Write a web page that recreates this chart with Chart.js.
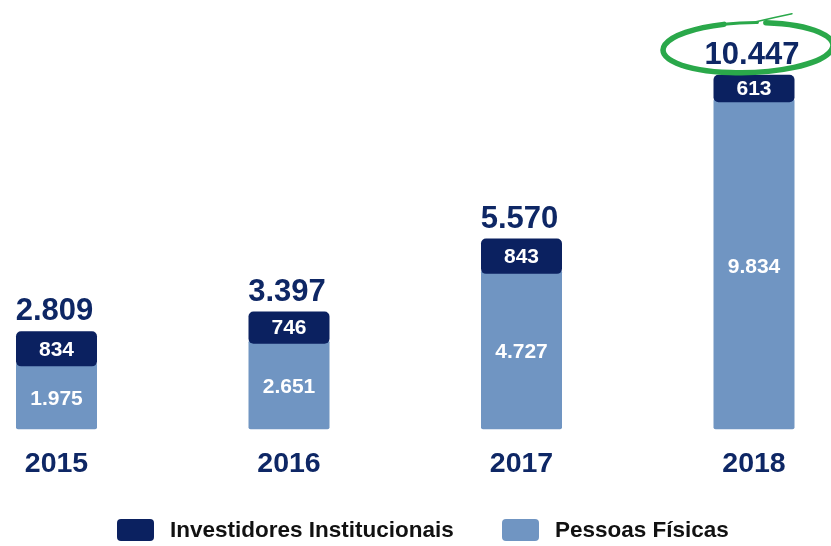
<!DOCTYPE html>
<html lang="pt-BR">
<head>
<meta charset="utf-8">
<script src="https://cdn.jsdelivr.net/npm/chart.js@4.4.1/dist/chart.umd.min.js"></script>
<style>
  html, body { margin: 0; padding: 0; background: #ffffff; }
  #wrap { position: relative; width: 831px; height: 546px; overflow: hidden; background: #ffffff; }
  #chart { position: absolute; left: 0; top: 0; }
  .leg { position: absolute; top: 519px; display: flex; align-items: center; height: 22px;
         font-family: "Liberation Sans", Arial, sans-serif; font-weight: bold; font-size: 22.5px; color: #111111; white-space: nowrap; }
  .leg .box { width: 37px; height: 22px; border-radius: 4px; margin-right: 16px; }
</style>
</head>
<body>
<div id="wrap">
  <canvas id="chart" width="831" height="546"></canvas>
  <div id="legend"></div>
</div>
<script>
// ---- data ----
const years = ['2015', '2016', '2017', '2018'];
const pessoasFisicas = [1975, 2651, 4727, 9834];
const investidoresInstitucionais = [834, 746, 843, 613];
const totais = [2809, 3397, 5570, 10447];
const seriesNames = ['Investidores Institucionais', 'Pessoas Físicas'];

// ---- styles ----
const DARK = '#0b2160';
const LIGHT = '#7095c2';
const NAVY_TEXT = '#0e2765';
const GREEN = '#2aa84a';
const FONT = '"Liberation Sans", Arial, sans-serif';
const INFLATE = 3.5;

const fmt = v => String(v).replace(/\B(?=(\d{3})+(?!\d))/g, '.');

// legend (HTML)
const legendEl = document.getElementById('legend');
[[seriesNames[0], DARK, 117], [seriesNames[1], LIGHT, 502]].forEach(([name, col, left]) => {
  const d = document.createElement('div');
  d.className = 'leg';
  d.style.left = left + 'px';
  const b = document.createElement('span');
  b.className = 'box';
  b.style.background = col;
  const t = document.createElement('span');
  t.textContent = name;
  d.appendChild(b); d.appendChild(t);
  legendEl.appendChild(d);
});

const labelPlugin = {
  id: 'valueLabels',
  afterDatasetsDraw(chart) {
    const ctx = chart.ctx;
    const darkMeta = chart.getDatasetMeta(0);
    const lightMeta = chart.getDatasetMeta(1);
    ctx.save();
    ctx.textAlign = 'center';
    ctx.textBaseline = 'middle';
    ctx.fillStyle = '#ffffff';
    ctx.font = 'bold 21px ' + FONT;
    lightMeta.data.forEach((el, i) => {
      const p = el.getProps(['x', 'y', 'base'], true);
      const top = p.y + INFLATE;
      ctx.fillText(fmt(pessoasFisicas[i]), p.x, (top + p.base) / 2 + 1);
    });
    darkMeta.data.forEach((el, i) => {
      const p = el.getProps(['x', 'y', 'base'], true);
      ctx.fillText(fmt(investidoresInstitucionais[i]), p.x, (p.y + p.base) / 2 + 1);
    });
    ctx.fillStyle = NAVY_TEXT;
    ctx.font = 'bold 31px ' + FONT;
    ctx.textBaseline = 'alphabetic';
    let last = null;
    darkMeta.data.forEach((el, i) => {
      const p = el.getProps(['x', 'y', 'base'], true);
      const by = p.y - INFLATE - 11;
      ctx.fillText(fmt(totais[i]), p.x - 2, by);
      last = { x: p.x, y: by };
    });
    // green highlight ellipse around the last total
    if (last) {
      const cx = last.x - 6, cy = last.y - 16;
      ctx.strokeStyle = GREEN;
      ctx.lineCap = 'round';
      ctx.lineWidth = 5.5;
      ctx.beginPath();
      ctx.ellipse(cx, cy, 85, 25, -0.03, -1.35, -1.35 + Math.PI * 2 - 0.5);
      ctx.stroke();
      ctx.lineWidth = 3;
      ctx.beginPath();
      ctx.ellipse(cx, cy, 85, 25, -0.03, -1.35 - 0.5, -1.35 - 0.1);
      ctx.stroke();
      ctx.lineWidth = 1.5;
      ctx.beginPath();
      ctx.moveTo(cx + 8, cy - 26);
      ctx.quadraticCurveTo(cx + 25, cy - 30, cx + 44, cy - 34);
      ctx.stroke();
    }
    ctx.restore();
  }
};

new Chart(document.getElementById('chart'), {
  type: 'bar',
  data: {
    labels: years,
    datasets: [
      {
        label: seriesNames[0],
        data: years.map((y, i) => [pessoasFisicas[i], pessoasFisicas[i] + investidoresInstitucionais[i]]),
        backgroundColor: DARK,
        borderWidth: 0,
        borderRadius: { topLeft: 5, topRight: 5, bottomLeft: 5, bottomRight: 5 },
        borderSkipped: false,
        barThickness: 74,
        inflateAmount: INFLATE,
        grouped: false,
        clip: false
      },
      {
        label: seriesNames[1],
        data: pessoasFisicas,
        backgroundColor: LIGHT,
        borderWidth: 0,
        borderRadius: { topLeft: 2, topRight: 2, bottomLeft: 2, bottomRight: 2 },
        borderSkipped: false,
        barThickness: 81,
        inflateAmount: 0,
        grouped: false,
        clip: false
      }
    ]
  },
  options: {
    responsive: false,
    animation: false,
    devicePixelRatio: 1,
    layout: { padding: { left: 56.5, right: 77, top: 26, bottom: 46.6 } },
    plugins: { legend: { display: false }, tooltip: { enabled: false } },
    scales: {
      x: {
        offset: false,
        grid: { display: false, drawTicks: false },
        border: { display: false },
        ticks: {
          color: NAVY_TEXT,
          font: { family: FONT, weight: 'bold', size: 28.5 },
          padding: 18,
          autoSkip: false,
          maxRotation: 0
        }
      },
      y: {
        display: false,
        min: 0,
        max: 12000
      }
    }
  },
  plugins: [labelPlugin]
});
</script>
</body>
</html>
